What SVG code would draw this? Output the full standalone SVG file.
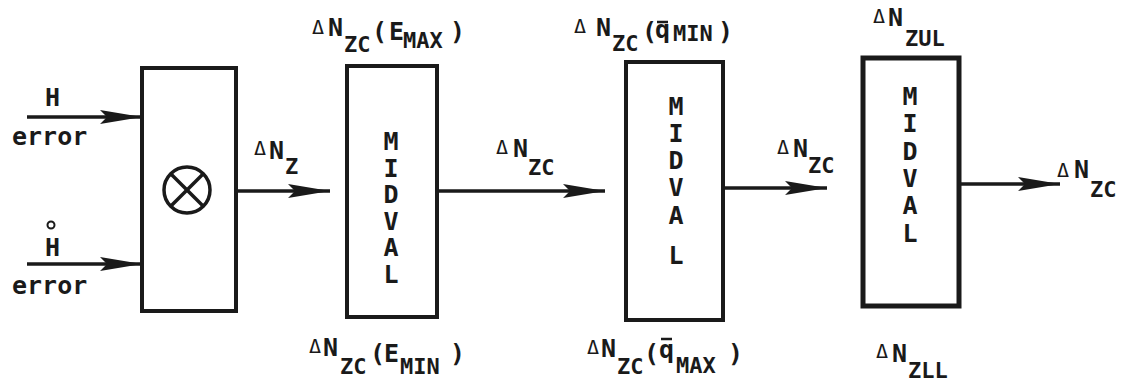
<svg xmlns="http://www.w3.org/2000/svg" width="1126" height="383" viewBox="0 0 1126 383">
<style>
text{font-family:"DejaVu Sans Mono","Liberation Mono",monospace;fill:#1a1a1a;font-weight:bold}
.t{font-size:25px}
.s{font-size:22px}
.d{font-size:20px;font-weight:normal}
.v{font-size:25px;writing-mode:vertical-lr;text-orientation:upright;letter-spacing:-2.5px}
.box{fill:#fff;stroke:#1a1a1a;stroke-width:4}
.line{stroke:#1a1a1a;stroke-width:3.5;fill:none}
</style>
<defs>
<marker id="ah" markerUnits="userSpaceOnUse" markerWidth="44" markerHeight="16" refX="42" refY="8" orient="auto">
<path d="M0,1 L42,8 L0,15 L7,8 Z" fill="#1a1a1a"/>
</marker>
</defs>
<rect width="1126" height="383" fill="#fff"/>
<g id="connectors">
<line class="line" x1="27" y1="117" x2="142" y2="117" marker-end="url(#ah)"/>
<line class="line" x1="27" y1="264" x2="142" y2="264" marker-end="url(#ah)"/>
<line class="line" x1="236" y1="191" x2="330" y2="191" marker-end="url(#ah)"/>
<line class="line" x1="437" y1="191" x2="605" y2="191" marker-end="url(#ah)"/>
<line class="line" x1="723" y1="188" x2="827" y2="188" marker-end="url(#ah)"/>
<line class="line" x1="960" y1="184" x2="1060" y2="184" marker-end="url(#ah)"/>
</g>
<g id="inputs">
<text class="t" x="45" y="106">H</text>
<text class="t" x="12" y="145">error</text>
<circle cx="51" cy="225" r="3.5" fill="none" stroke="#1a1a1a" stroke-width="2"/>
<text class="t" x="45" y="256">H</text>
<text class="t" x="12" y="294">error</text>
</g>
<g id="multiplier">
<rect class="box" x="142" y="68" width="94" height="243"/>
<circle cx="187" cy="190" r="23" fill="none" stroke="#1a1a1a" stroke-width="3.5"/>
<line class="line" x1="170.7" y1="173.7" x2="203.3" y2="206.3"/>
<line class="line" x1="203.3" y1="173.7" x2="170.7" y2="206.3"/>
</g>
<g id="label-dnz">
<text class="d" x="254" y="155">Δ</text>
<text class="t" x="269" y="159">N</text>
<text class="s" x="285" y="174">Z</text>
</g>
<g id="midval1">
<rect class="box" x="347" y="66" width="90" height="251"/>
<text class="v" x="391" y="127">MIDVAL</text>
</g>
<g id="label-emax">
<text class="d" x="312" y="34">Δ</text>
<text class="t" x="328" y="36">N</text>
<text class="s" x="344" y="52">ZC</text>
<text class="t" x="372" y="40">(</text>
<text class="t" x="389" y="40">E</text>
<text class="s" x="403" y="48">MAX</text>
<text class="t" x="450" y="40">)</text>
</g>
<g id="label-emin">
<text class="d" x="309" y="353">Δ</text>
<text class="t" x="323" y="356">N</text>
<text class="s" x="340" y="374">ZC</text>
<text class="t" x="370" y="362">(</text>
<text class="t" x="384" y="362">E</text>
<text class="s" x="400" y="374">MIN</text>
<text class="t" x="450" y="362">)</text>
</g>
<g id="label-dnzc1">
<text class="d" x="496" y="154">Δ</text>
<text class="t" x="513" y="157">N</text>
<text class="s" x="528" y="175">ZC</text>
</g>
<g id="midval2">
<rect class="box" x="626" y="62" width="97" height="258"/>
<text class="v" x="676" y="92" style="letter-spacing:-1.85px">MIDVA</text>
<text class="t" text-anchor="middle" x="676" y="264">L</text>
</g>
<g id="label-qmin">
<text class="d" x="574" y="33">Δ</text>
<text class="t" x="596" y="36">N</text>
<text class="s" x="612" y="51">ZC</text>
<text class="t" x="642" y="40">(</text>
<text class="t" x="655" y="38">q</text>
<line x1="657" y1="22" x2="668" y2="22" stroke="#1a1a1a" stroke-width="2.5"/>
<text class="s" x="673" y="41">MIN</text>
<text class="t" x="718" y="40">)</text>
</g>
<g id="label-qmax">
<text class="d" x="587" y="354">Δ</text>
<text class="t" x="601" y="357">N</text>
<text class="s" x="617" y="374">ZC</text>
<text class="t" x="644" y="362">(</text>
<text class="t" x="659" y="358">q</text>
<line x1="661" y1="339" x2="672" y2="339" stroke="#1a1a1a" stroke-width="2.5"/>
<text class="s" x="676" y="373">MAX</text>
<text class="t" x="728" y="362">)</text>
</g>
<g id="label-dnzc2">
<text class="d" x="777" y="154">Δ</text>
<text class="t" x="793" y="157">N</text>
<text class="s" x="808" y="173">ZC</text>
</g>
<g id="midval3">
<rect class="box" x="863" y="58" width="96" height="248" style="stroke-width:5"/>
<text class="v" x="910" y="82" style="letter-spacing:-1.7px">MIDVAL</text>
</g>
<g id="label-zul">
<text class="d" x="873" y="23">Δ</text>
<text class="t" x="888" y="26">N</text>
<text class="s" x="905" y="46">ZUL</text>
</g>
<g id="label-zll">
<text class="d" x="876" y="358">Δ</text>
<text class="t" x="892" y="362">N</text>
<text class="s" x="908" y="378">ZLL</text>
</g>
<g id="label-out">
<text class="d" x="1057" y="177">Δ</text>
<text class="t" x="1074" y="178">N</text>
<text class="s" x="1090" y="197">ZC</text>
</g>
</svg>
